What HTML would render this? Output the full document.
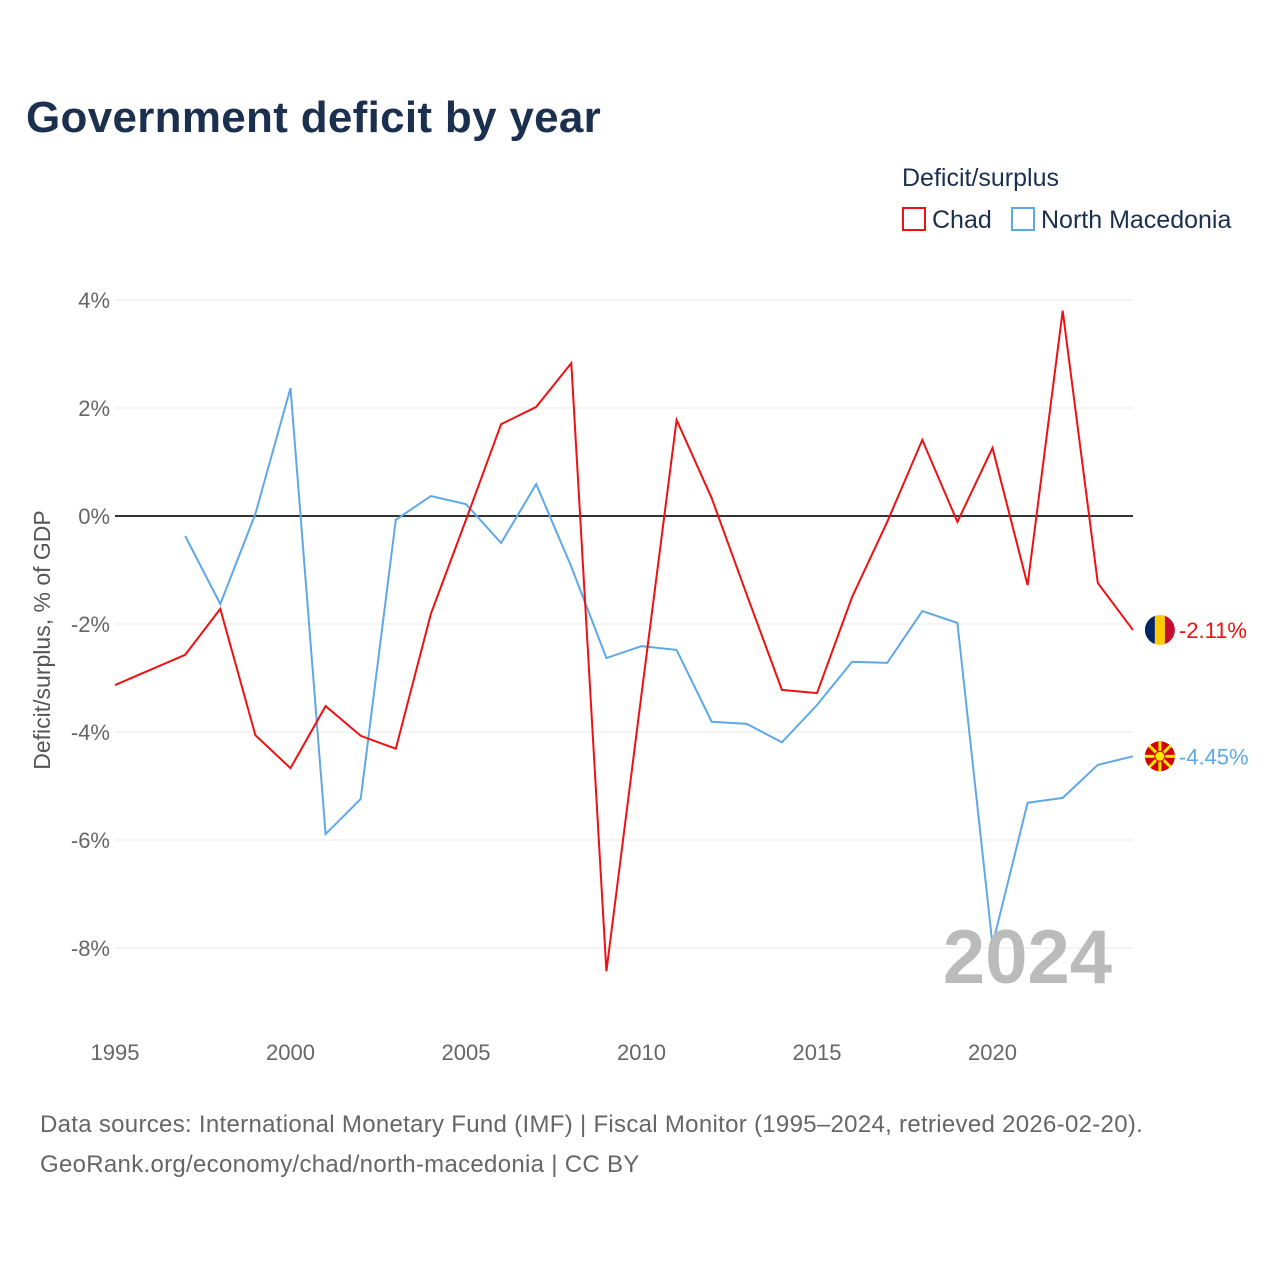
<!DOCTYPE html>
<html><head><meta charset="utf-8"><style>
body{margin:0;background:#fff;font-family:"Liberation Sans",sans-serif;}
svg text{font-family:"Liberation Sans",sans-serif;}
</style></head><body>
<svg id="chart" width="1280" height="1280" viewBox="0 0 1280 1280" xmlns="http://www.w3.org/2000/svg">
<rect width="1280" height="1280" fill="#fff"/>
<text x="26" y="132" font-size="44" font-weight="bold" fill="#1b2f4f" letter-spacing="0.3">Government deficit by year</text>
<text x="902" y="186" font-size="25" fill="#1b2f4f">Deficit/surplus</text>
<g><rect x="903" y="208" width="22" height="22" fill="none" stroke="#ee1111" stroke-width="2"/><text x="932" y="228" font-size="25" fill="#1b2f4f">Chad</text></g>
<g><rect x="1012" y="208" width="22" height="22" fill="none" stroke="#5fa8e8" stroke-width="2"/><text x="1041" y="228" font-size="25" fill="#1b2f4f">North Macedonia</text></g>
<text transform="translate(50,640) rotate(-90)" text-anchor="middle" font-size="23" fill="#555">Deficit/surplus, % of GDP</text>
<g id="grid"></g><g id="series"></g>
<text x="1112" y="983" text-anchor="end" font-size="76" font-weight="bold" fill="#bbb">2024</text>
<text x="40" y="1132" font-size="24" fill="#666" letter-spacing="0.3">Data sources: International Monetary Fund (IMF) | Fiscal Monitor (1995–2024, retrieved 2026-02-20).</text>
<text x="40" y="1172" font-size="24" fill="#666" letter-spacing="0.3">GeoRank.org/economy/chad/north-macedonia | CC BY</text>
</svg>
<script>
const years=[];for(let y=1995;y<=2024;y++)years.push(y);
const chad=[-3.13,-2.85,-2.57,-1.72,-4.06,-4.67,-3.52,-4.07,-4.31,-1.81,-0.07,1.70,2.02,2.83,-8.43,-3.3,1.78,0.33,-1.46,-3.22,-3.28,-1.5,-0.11,1.41,-0.11,1.26,-1.28,3.8,-1.24,-2.11];
const mkd=[null,null,-0.37,-1.63,0.04,2.37,-5.89,-5.24,-0.07,0.37,0.22,-0.5,0.59,-0.94,-2.63,-2.41,-2.48,-3.81,-3.85,-4.19,-3.5,-2.7,-2.72,-1.76,-1.98,-7.94,-5.31,-5.22,-4.61,-4.45];
const yTicks=[4,2,0,-2,-4,-6,-8];
const xTicks=[1995,2000,2005,2010,2015,2020];
const X=y=>115+(y-1995)*35.1, Y=v=>516-v*54;
const NS="http://www.w3.org/2000/svg";
function el(t,a,p){const e=document.createElementNS(NS,t);for(const k in a)e.setAttribute(k,a[k]);p.appendChild(e);return e;}
const g=document.getElementById('grid'),s=document.getElementById('series');
yTicks.forEach(v=>{
 const l=el('line',{x1:115,x2:1133,y1:Y(v),y2:Y(v),stroke:v===0?'#333':'#e8e8e8','stroke-width':v===0?2:1},g);
 
 
 const t=el('text',{x:110,y:Y(v)+8,'text-anchor':'end','font-size':22,fill:'#666'},g);t.textContent=v+'%';
 
 
});
xTicks.forEach(v=>{
 const t=el('text',{x:X(v),y:1060,'text-anchor':'middle','font-size':22,fill:'#666'},g);t.textContent=v;
 
 
});
function line(data,color,name){
 let d='';data.forEach((v,i)=>{if(v===null)return;d+=(d?'L':'M')+X(years[i])+','+Y(v);});
 const p=el('path',{d:d,fill:'none',stroke:color,'stroke-width':2},s);
 
 
}
line(mkd,'#5fa8e8','north-macedonia-line');
line(chad,'#ee1111','chad-line');
const cv=chad[chad.length-1],mv=mkd[mkd.length-1],ex=X(2024)+27;
const cg=el('g',{},s);


el('clipPath',{id:'cc'},cg);el('circle',{cx:ex,cy:Y(cv),r:15},cg.lastChild);
['#002664','#fecb00','#c60c30'].forEach((c,i)=>el('rect',{x:ex-15+i*10,y:Y(cv)-15,width:10,height:30,fill:c,'clip-path':'url(#cc)'},cg));
const ct=el('text',{x:ex+19,y:Y(cv)+8,'font-size':22,fill:'#ee1111'},s);ct.textContent=cv.toFixed(2)+'%';


const mg=el('g',{},s);


el('circle',{cx:ex,cy:Y(mv),r:15,fill:'#d20000'},mg);
for(let a=0;a<8;a++){const r=a*Math.PI/4;el('line',{x1:ex,y1:Y(mv),x2:ex+15*Math.cos(r),y2:Y(mv)+15*Math.sin(r),stroke:'#ffe600','stroke-width':3},mg);}
el('circle',{cx:ex,cy:Y(mv),r:5,fill:'#ffe600',stroke:'#d20000','stroke-width':1},mg);
const mt=el('text',{x:ex+19,y:Y(mv)+8,'font-size':22,fill:'#5fa8e8'},s);mt.textContent=mv.toFixed(2)+'%';


</script>
</body></html>
